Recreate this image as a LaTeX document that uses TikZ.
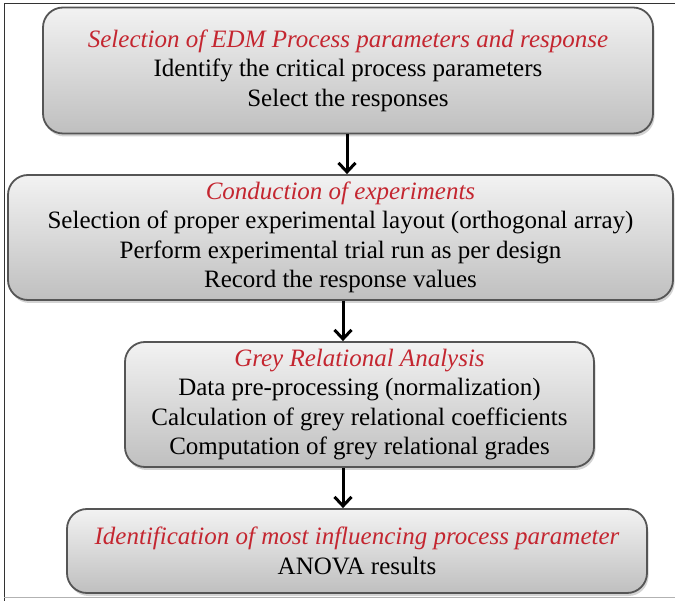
\documentclass[tikz,border=0pt]{standalone}
\usepackage{fontspec}
\setmainfont{Liberation Serif}
\usetikzlibrary{arrows.meta,shadows}
\definecolor{titlered}{RGB}{196,38,48}
\definecolor{boxedge}{RGB}{85,85,85}
\begin{document}
\begin{tikzpicture}[x=1pt,y=-1pt,
  stagebox/.style={draw=boxedge, line width=1.8pt, rounded corners=20pt,
    top color=black!5, bottom color=black!25,
    drop shadow={opacity=0.35, shadow xshift=1.5pt, shadow yshift=-3pt},
    align=center, inner sep=0pt,
    font={\fontsize{25pt}{29.5pt}\selectfont}},
  flowarrow/.style={line width=3pt, -{Straight Barb[length=9pt,width=17pt,line width=3pt]}},
]
\useasboundingbox (0,0) rectangle (675,601);
% frame around the sheet
\draw[black!80, line width=1pt] (4,601) -- (4,4) -- (675,4);
\draw[black!30, line width=1pt] (4,597.5) -- (675,597.5);

\node[stagebox, minimum width=610pt, minimum height=126pt] (b1) at (348,70.5)
  {\textcolor{titlered}{\itshape Selection of EDM Process parameters and response}\\
   Identify the critical process parameters\\
   Select the responses};

\node[stagebox, minimum width=665pt, minimum height=125pt] (b2) at (340.5,237.5)
  {\textcolor{titlered}{\itshape Conduction of experiments}\\
   Selection of proper experimental layout (orthogonal array)\\
   Perform experimental trial run as per design\\
   Record the response values};

\node[stagebox, minimum width=469pt, minimum height=125pt] (b3) at (359.5,404.5)
  {\textcolor{titlered}{\itshape Grey Relational Analysis}\\
   Data pre-processing (normalization)\\
   Calculation of grey relational coefficients\\
   Computation of grey relational grades};

\node[stagebox, minimum width=580pt, minimum height=84pt] (b4) at (357,551)
  {\textcolor{titlered}{\itshape Identification of most influencing process parameter}\\
   ANOVA results};

\coordinate (a1) at (347,0);
\coordinate (a2) at (343,0);
\draw[flowarrow] (b1.south -| a1) -- (b2.north -| a1);
\draw[flowarrow] (b2.south -| a2) -- (b3.north -| a2);
\draw[flowarrow] (b3.south -| a2) -- (b4.north -| a2);
\end{tikzpicture}
\end{document}
